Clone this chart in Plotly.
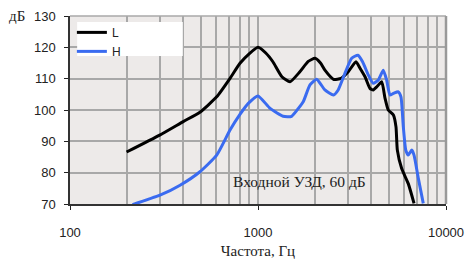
import plotly.graph_objects as go

freq_L = [200, 300, 400, 491, 603, 710, 802, 900, 1000, 1100, 1200, 1340, 1480, 1670, 1850, 2010, 2150, 2270,
          2520, 2770, 3020, 3320, 3490, 3710, 3940, 4100, 4300, 4550, 4740, 4930, 5250, 5420, 5510, 5810,
          6300, 6760]
db_L = [86.6, 92.0, 96.3, 99.3, 104.2, 110.1, 114.9, 118.0, 120.0, 118.2, 115.4, 110.6, 109.0, 112.2, 115.5,
        116.5, 115.0, 112.7, 109.8, 110.1, 112.2, 115.4, 113.3, 110.6, 106.9, 106.4, 107.5, 109.0, 103.7,
        100.0, 98.4, 94.6, 87.2, 81.3, 76.5, 70.2]

freq_H = [215, 301, 385, 491, 603, 710, 800, 888, 1000, 1160, 1360, 1510, 1640, 1740, 1890, 2050, 2270, 2520,
          2670, 2900, 3150, 3400, 3600, 3860, 4100, 4370, 4640, 4830, 5030, 5250, 5575, 5760, 5930, 6110,
          6300, 6575, 6760, 7130, 7570]
db_H = [69.8, 72.8, 76.0, 80.3, 85.6, 93.6, 98.5, 102.1, 104.5, 100.5, 98.0, 98.0, 100.5, 102.6, 108.0, 109.8,
        106.4, 104.8, 106.4, 111.7, 116.5, 117.5, 115.4, 111.2, 108.5, 109.6, 112.7, 109.6, 104.8, 105.3,
        105.8, 104.2, 94.6, 87.2, 85.6, 87.2, 85.6, 78.1, 70.2]

y_ticks = [70, 80, 90, 100, 110, 120, 130]
x_ticks = [100, 1000, 10000]
x_ticklabels = ["100", "1000", "10000"]
x_minor = [200, 300, 400, 500, 600, 700, 800, 900, 2000, 3000, 4000, 5000, 6000, 7000, 8000, 9000]

series_names = ["L", "H"]
series_colors = ["#000000", "#3A6BF0"]

BG = "#EDEAE9"
GRID = "#A8A8A8"
SANS = "Liberation Sans, Arial, sans-serif"
SERIF = "Liberation Serif, Times New Roman, serif"

fig = go.Figure()
for name, fx, fy, col in [(series_names[0], freq_L, db_L, series_colors[0]),
                          (series_names[1], freq_H, db_H, series_colors[1])]:
    fig.add_trace(go.Scatter(x=fx, y=fy, mode="lines", name=name,
                             line=dict(color=col, width=3, shape="spline", smoothing=0.5)))

fig.update_layout(
    width=465, height=260,
    margin=dict(l=70, r=19, t=16, b=56, autoexpand=False),
    paper_bgcolor="white", plot_bgcolor=BG,
    font=dict(family=SANS, size=13, color="#222222"),
    showlegend=True,
    legend=dict(x=0.005, y=0.99, xanchor="left", yanchor="top",
                bgcolor="rgba(0,0,0,0)", borderwidth=0,
                font=dict(family=SANS, size=12, color="#222222"),
                itemwidth=30, tracegroupgap=0, entrywidth=60),
    xaxis=dict(type="log", range=[2, 4], tickvals=x_ticks, ticktext=x_ticklabels, automargin=False,
               showgrid=True, gridcolor=GRID, gridwidth=1.5,
               minor=dict(tickvals=x_minor, showgrid=True, gridcolor=GRID, gridwidth=1.5, ticklen=0),
               ticks="outside", ticklen=4, tickcolor="#222222", tickwidth=1,
               ticklabelstandoff=12,
               showline=True, linecolor="#333333", linewidth=1.5,
               title=dict(text="Частота, Гц", font=dict(family=SERIF, size=15, color="#222222"), standoff=6),
               zeroline=False),
    yaxis=dict(range=[70, 130], tickvals=y_ticks, automargin=False,
               showgrid=True, gridcolor=GRID, gridwidth=1.5,
               ticks="outside", ticklen=4, tickcolor="#222222", tickwidth=1,
               ticklabelstandoff=6,
               showline=True, linecolor="#333333", linewidth=1.5, zeroline=False),
    shapes=[
        dict(type="rect", xref="paper", yref="paper", x0=0.019, x1=0.3, y0=0.787, y1=0.968,
             fillcolor="white", line=dict(width=0), layer="above"),
        dict(type="line", xref="paper", yref="paper", x0=0, x1=1, y0=1, y1=1,
             line=dict(color="#A8A8A8", width=1.5)),
        dict(type="line", xref="paper", yref="paper", x0=1, x1=1, y0=0, y1=1,
             line=dict(color="#999999", width=2.5)),
    ],
    annotations=[
        dict(text="дБ", xref="paper", yref="paper", x=-0.14, y=1.0, xanchor="center", yanchor="middle",
             showarrow=False, font=dict(family=SERIF, size=15, color="#222222")),
        dict(text="Входной УЗД, 60 дБ", xref="paper", yref="paper", x=0.61, y=0.12,
             xanchor="center", yanchor="middle", showarrow=False,
             font=dict(family=SERIF, size=15.5, color="#222222")),
    ],
)

fig.write_html("out.html", config={"displayModeBar": False},
               post_script="document.body.style.margin='0';document.body.style.overflow='hidden';")
